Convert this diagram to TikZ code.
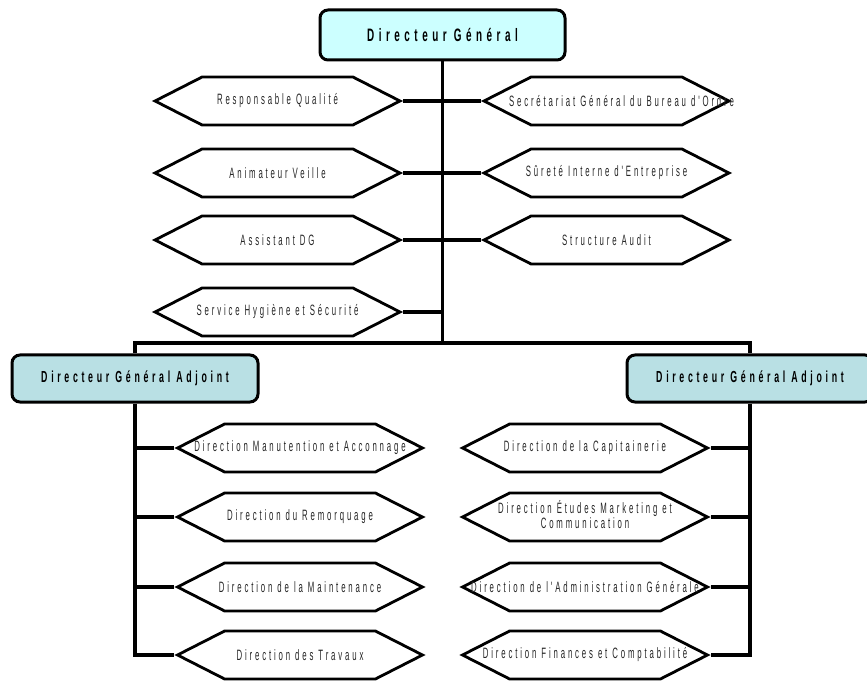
\documentclass[tikz,border=0pt]{standalone}
\usepackage{fontspec}
\setmainfont{Liberation Sans}
\newfontfamily\orgfont[FakeStretch=0.52,LetterSpace=19]{Liberation Sans}
\newfontfamily\chieffont[FakeStretch=0.55,LetterSpace=25]{Liberation Sans}
\newfontfamily\deputyfont[FakeStretch=0.55,LetterSpace=23]{Liberation Sans}
\usetikzlibrary{shapes.symbols}
\definecolor{cyanfill}{RGB}{204,255,255}
\definecolor{tealfill}{RGB}{185,224,228}
% zero-width label so every hexagon keeps the same size; optional shift of the text
\newcommand\hexlabel[2][0pt]{\hbox to 0pt{\hss\kern#1\kern#1#2\hss}}
\begin{document}
\begin{tikzpicture}[x=1pt,y=-1pt,
  hexbox/.style={signal, signal to=east and west, signal pointer angle=54,
    draw, line width=2.8pt, fill=white, minimum width=245pt, minimum height=48pt,
    inner sep=0pt, text=black!85, font=\orgfont\fontsize{15}{17}\selectfont},
  chief/.style={rectangle, rounded corners=8pt, draw, line width=3pt,
    fill=cyanfill, minimum width=245pt, minimum height=50pt,
    font=\chieffont\bfseries\fontsize{18}{20}\selectfont},
  deputy/.style={rectangle, rounded corners=8pt, draw, line width=3pt,
    fill=tealfill, minimum width=246pt, minimum height=47pt,
    font=\deputyfont\bfseries\fontsize{16}{19}\selectfont},
  link/.style={line width=3.5pt, line join=miter}]
\useasboundingbox[fill=white] (0,0) rectangle (867,684);

% general management
\node[chief] (dg) at (442.5,35) {Directeur Général};

% staff services, left
\node[hexbox] (rq)  at (277.5,101) {\hexlabel{Responsable Qualité}};
\node[hexbox] (av)  at (277.5,173) {\hexlabel{Animateur Veille}};
\node[hexbox] (adg) at (277.5,240) {\hexlabel{Assistant DG}};
\node[hexbox] (shs) at (277.5,312) {\hexlabel{Service Hygiène et Sécurité}};

% staff services, right
\node[hexbox] (sg) at (606.5,101) {\hexlabel[15pt]{Secrétariat Général du Bureau d'Ordre}};
\node[hexbox] (si) at (606.5,173) {\hexlabel{Sûreté Interne d'Entreprise}};
\node[hexbox] (sa) at (606.5,240) {\hexlabel{Structure Audit}};

% deputies
\node[deputy] (dgaL) at (135,378.5) {Directeur Général Adjoint};
\node[deputy] (dgaR) at (750,378.5) {Directeur Général Adjoint};

% departments under the left deputy
\node[hexbox] (dm)  at (300,448) {\hexlabel{Direction Manutention et Acconnage}};
\node[hexbox] (dr)  at (300,517) {\hexlabel{Direction du Remorquage}};
\node[hexbox] (dma) at (300,587) {\hexlabel{Direction de la Maintenance}};
\node[hexbox] (dt)  at (300,655) {\hexlabel{Direction des Travaux}};

% departments under the right deputy
\node[hexbox] (dc) at (585,448) {\hexlabel{Direction de la Capitainerie}};
\node[hexbox] (de) at (585,517) {\hexlabel{\begin{tabular}{@{}c@{}}Direction Études Marketing et\\[-2pt]Communication\end{tabular}}};
\node[hexbox] (da) at (585,587) {\hexlabel{Direction de l'Administration Générale}};
\node[hexbox] (df) at (585,655) {\hexlabel{Direction Finances et Comptabilité}};

% trunk and bus
\coordinate (bus) at (442.5,343);
\draw[link] (dg.south) -- (bus);
\draw[link] (dgaL.north) -- (dgaL.north |- bus) -- (dgaR.north |- bus) -- (dgaR.north);

% staff links
\foreach \n in {rq,av,adg,shs} \draw[link] (\n.east) -- (\n.east -| dg.south);
\foreach \n in {sg,si,sa} \draw[link] (\n.west) -- (\n.west -| dg.south);

% deputy links
\draw[link] (dgaL.south) -- (dgaL.south |- dt.west) -- (dt.west);
\foreach \n in {dm,dr,dma} \draw[link] (\n.west) -- (\n.west -| dgaL.south);
\draw[link] (dgaR.south) -- (dgaR.south |- df.east) -- (df.east);
\foreach \n in {dc,de,da} \draw[link] (\n.east) -- (\n.east -| dgaR.south);
\end{tikzpicture}
\end{document}
